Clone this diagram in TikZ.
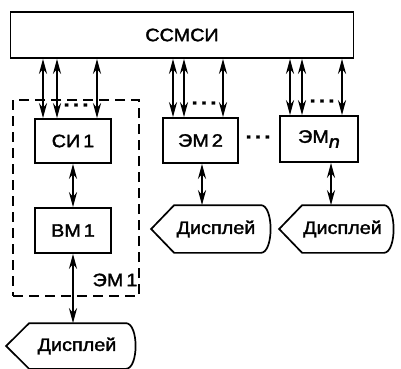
\documentclass[tikz,border=0pt]{standalone}
\usepackage{fontspec}
\setmainfont[FakeStretch=1.1,FakeBold=1.8]{Liberation Sans}
\usepackage{tikz}
\usetikzlibrary{arrows.meta}
\usetikzlibrary{positioning}
\usetikzlibrary{calc}

\begin{document}
\begin{tikzpicture}[x=1pt,y=-1pt,line width=1.7pt,font=\fontsize{18}{20}\selectfont]
 \tikzstyle{block node}=[rectangle,draw,inner sep=1]
 \tikzstyle{frame node}=[rectangle,draw,dash pattern=on 10pt off 6pt,inner sep=0]
 \tikzstyle{disp node}=[inner sep=0]
 \tikzset{
 	bus/.style={{Stealth[length=15pt,width=8pt]}-{Stealth[length=15pt,width=8pt]},line width=2.2pt},
 	dots/.style={inner sep=0,font=\fontsize{20}{20}\selectfont\bfseries}
 }
 \useasboundingbox (0,0) rectangle (401,368);

       \node[block node,minimum width=343pt,minimum height=46pt] (ssmsi) at (182,35) {ССМСИ};
       \node[frame node,minimum width=126pt,minimum height=196pt] (em1) at (76,198) {};
       \node[block node,minimum width=76pt,minimum height=44pt] (si1) at (73,141) {СИ\,1};
       \node[block node,minimum width=76pt,minimum height=45pt] (vm1) at (73,230.5) {ВМ\,1};
       \node[block node,minimum width=75pt,minimum height=45pt] (em2) at (200.5,140.5) {ЭМ\,2};
       \node[block node,minimum width=78pt,minimum height=46pt] (emn) at (319,139) {ЭМ\raisebox{-5pt}{\textit{n}}};
       \node (em1lbl) at (115,280) {ЭМ\,1};

       \node[disp node,minimum width=128pt,minimum height=44pt] (d1) at (71,346) {\hspace{12pt}Дисплей};
       \node[disp node,minimum width=118pt,minimum height=46pt] (d2) at (211,229) {\hspace{10pt}Дисплей};
       \node[disp node,minimum width=113pt,minimum height=46pt] (d3) at (336.5,229) {\hspace{12pt}Дисплей};

       \node[dots] (p1) at (76,105) {.\,.\,.};
       \node[dots] (p2) at (204,103) {.\,.\,.};
       \node[dots] (p3) at (322,101) {.\,.\,.};
       \node[dots] (p4) at (258,137) {.\,.\,.};

     \foreach \d in {d1,d2,d3}
       \draw (\d.west) -- ([xshift=23pt]\d.north west) -- ([xshift=-10pt]\d.north east)
         .. controls ([xshift=3pt]\d.north east) and ([xshift=3pt]\d.south east) .. ([xshift=-10pt]\d.south east)
         -- ([xshift=23pt]\d.south west) -- cycle;

     \foreach \tgt/\xa/\xb/\xc in {si1/43/57/97, em2/173/184/223, emn/290/302/342} {
       \foreach \x in {\xa,\xb,\xc} {
         \coordinate (c) at (\x,0);
         \draw[bus] (ssmsi.south -| c) -- (\tgt.north -| c);
       }
     }

     \coordinate (e2) at (202,0);
     \coordinate (en) at (331,0);
     \draw[bus] (si1.south) -- (vm1.north);
     \draw[bus] (vm1.south) -- (vm1.south |- d1.north);
     \draw[bus] (em2.south -| e2) -- (d2.north -| e2);
     \draw[bus] (emn.south -| en) -- (d3.north -| en);
\end{tikzpicture}
\end{document}
